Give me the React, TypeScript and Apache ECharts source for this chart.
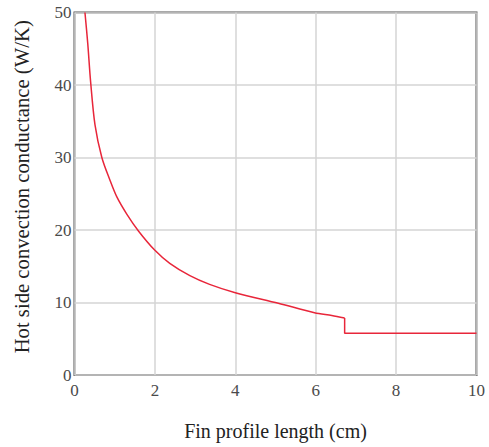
import React, { useEffect, useRef } from "react";
import * as echarts from "echarts";

const curveX = [0.26, 0.33, 0.4, 0.51, 0.68, 0.88, 1.05, 1.3, 1.6, 2.0, 2.37, 2.87, 3.36, 4.0, 5.07, 5.97, 6.4, 6.72];
const curveY = [50, 45.7, 40.5, 34.5, 30, 26.9, 24.6, 22.2, 19.8, 17.2, 15.4, 13.7, 12.5, 11.35, 9.9, 8.6, 8.2, 7.85];
const stepX = [6.72, 6.72, 10];
const stepY = [7.85, 5.75, 5.75];
const xTicks = { min: 0, max: 10, interval: 2 };
const yTicks = { min: 0, max: 50, interval: 10 };
const xTitle = "Fin profile length (cm)";
const yTitle = "Hot side convection conductance (W/K)";

export default function App() {
  const ref = useRef<HTMLDivElement>(null);
  useEffect(() => {
    if (!ref.current) return;
    const chart = echarts.init(ref.current, null, { renderer: "svg" });
    const serif = "Liberation Serif";
    const red = "#e8263a";
    chart.setOption({
      animation: false,
      backgroundColor: "#ffffff",
      textStyle: { fontFamily: serif },
      grid: {
        left: 74.5,
        right: 12.5,
        top: 12.5,
        bottom: 72,
        show: true,
        borderColor: "#555555",
        borderWidth: 2,
      },
      xAxis: {
        type: "value",
        min: xTicks.min,
        max: xTicks.max,
        interval: xTicks.interval,
        name: xTitle,
        nameLocation: "middle",
        nameGap: 46,
        nameTextStyle: { fontFamily: serif, fontSize: 20, color: "#222222" },
        axisLine: { show: false },
        axisTick: { show: false },
        axisLabel: { fontFamily: serif, fontSize: 17, color: "#4a4a4a", margin: 7 },
        splitLine: { show: true, lineStyle: { color: "#d4d4d4", width: 1.5 } },
      },
      yAxis: {
        type: "value",
        min: yTicks.min,
        max: yTicks.max,
        interval: yTicks.interval,
        name: yTitle,
        nameLocation: "middle",
        nameGap: 42,
        nameTextStyle: {
          fontFamily: serif,
          fontSize: 20.7,
          color: "#222222",
          padding: [0, 0, 0, 14],
        },
        axisLine: { show: false },
        axisTick: { show: false },
        axisLabel: { fontFamily: serif, fontSize: 17, color: "#4a4a4a", margin: 3 },
        splitLine: { show: true, lineStyle: { color: "#d4d4d4", width: 1.5 } },
      },
      series: [
        {
          type: "line",
          data: curveX.map((x, i) => [x, curveY[i]]),
          smooth: 0.3,
          showSymbol: false,
          symbol: "none",
          lineStyle: { color: red, width: 1.5 },
        },
        {
          type: "line",
          data: stepX.map((x, i) => [x, stepY[i]]),
          showSymbol: false,
          symbol: "none",
          lineStyle: { color: red, width: 1.5 },
        },
      ],
    });
    return () => chart.dispose();
  }, []);
  return (
    <div
      ref={ref}
      style={{ position: "fixed", left: 0, top: 0, width: 489, height: 447 }}
    />
  );
}
